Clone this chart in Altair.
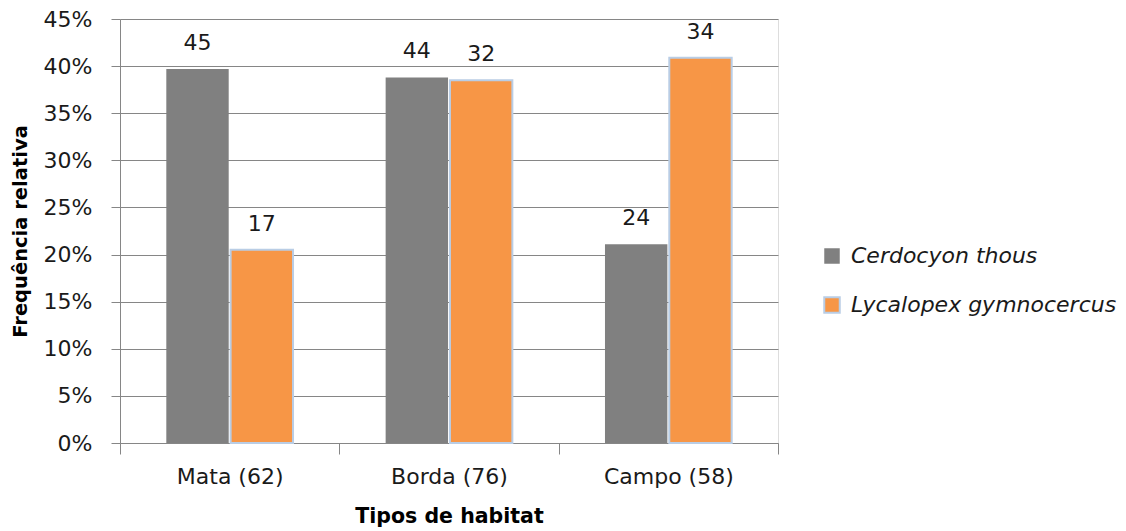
import altair as alt
import pandas as pd

habitats = ["Mata (62)", "Borda (76)", "Campo (58)"]
species = ["Cerdocyon thous", "Lycalopex gymnocercus"]
counts_cerdocyon = [45, 44, 24]
counts_lycalopex = [17, 32, 34]
freq_cerdocyon = [0.397, 0.388, 0.211]
freq_lycalopex = [0.205, 0.385, 0.409]
colors = ["#808080", "#F79646"]
strokes = ["transparent", "#B9CDE5"]

rows = []
for i, h in enumerate(habitats):
    rows.append({"habitat": h, "species": species[0], "freq": freq_cerdocyon[i], "count": counts_cerdocyon[i]})
    rows.append({"habitat": h, "species": species[1], "freq": freq_lycalopex[i], "count": counts_lycalopex[i]})
df = pd.DataFrame(rows)

FONT = "DejaVu Sans"

x = alt.X("habitat:N", sort=habitats, scale=alt.Scale(paddingInner=0, paddingOuter=0),
          axis=alt.Axis(title="Tipos de habitat", labelAngle=0, tickBand="extent",
                        tickSize=11, labelPadding=12, titlePadding=19, grid=False,
                        domainColor="#868686", tickColor="#868686",
                        labelFont=FONT, labelFontSize=22, labelColor="#1a1a1a",
                        titleFont=FONT, titleFontSize=20.5, titleFontWeight="bold", titleColor="#000000"))
xo = alt.XOffset("species:N", sort=species, scale=alt.Scale(paddingInner=0.03, paddingOuter=0.72))
y = alt.Y("freq:Q", scale=alt.Scale(domain=[0, 0.45], nice=False),
          axis=alt.Axis(title="Frequência relativa", format=".0%", values=[i * 0.05 for i in range(10)],
                        tickSize=9, labelPadding=19, titlePadding=13,
                        gridColor="#868686", domainColor="#868686", tickColor="#868686",
                        labelFont=FONT, labelFontSize=22, labelColor="#1a1a1a",
                        titleFont=FONT, titleFontSize=19.5, titleFontWeight="bold", titleColor="#000000"))

leg = dict(title=None, orient="none", legendX=701, legendY=226,
           symbolType="square", symbolSize=240, symbolStrokeWidth=2,
           rowPadding=25, labelFont=FONT, labelFontSize=22, labelLimit=0,
           labelFontStyle="italic", labelColor="#1a1a1a", labelOffset=8)
color = alt.Color("species:N", sort=species, scale=alt.Scale(domain=species, range=colors),
                  legend=alt.Legend(**leg))
stroke = alt.Stroke("species:N", sort=species, scale=alt.Scale(domain=species, range=strokes),
                    legend=alt.Legend(**leg))

bars = alt.Chart(df).mark_bar(strokeWidth=2).encode(x=x, xOffset=xo, y=y, color=color, stroke=stroke)
labels = alt.Chart(df).mark_text(font=FONT, fontSize=22, color="#1a1a1a", baseline="alphabetic", dy=-19).encode(
    x=alt.X("habitat:N", sort=habitats), xOffset=alt.XOffset("species:N", sort=species), y="freq:Q",
    text="count:Q")

chart = alt.layer(bars, labels).properties(
    width=658, height=424,
    autosize=alt.AutoSizeParams(type="none"),
    padding={"left": 120, "top": 19, "right": 348, "bottom": 88},
).configure_view(stroke=None).configure(background="white")

chart.save("out.html", embed_options={"renderer": "svg", "actions": False})
